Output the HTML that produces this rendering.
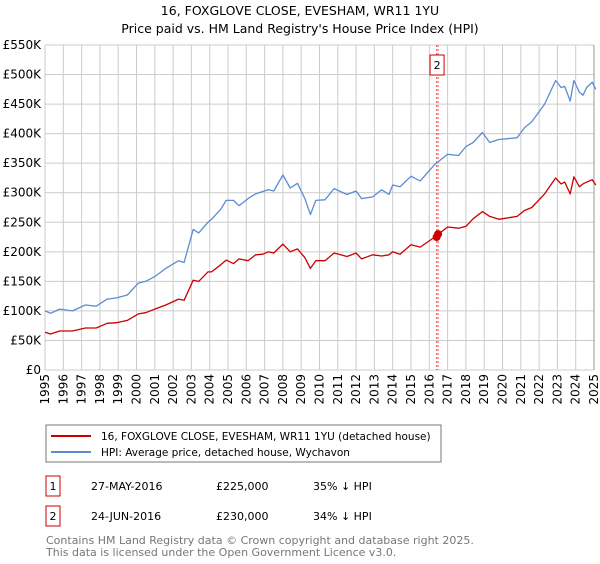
<!DOCTYPE html>
<html><head><meta charset="utf-8"><style>
body{margin:0;background:#fff;width:600px;height:560px;overflow:hidden;font-family:"DejaVu Sans","Liberation Sans",sans-serif;}
svg text{font-family:"DejaVu Sans","Liberation Sans",sans-serif;}
</style></head><body>
<svg id="chart" width="600" height="560">
<text x="300" y="15" text-anchor="middle" font-size="12.5">16, FOXGLOVE CLOSE, EVESHAM, WR11 1YU</text>
<text x="300" y="33" text-anchor="middle" font-size="12.5">Price paid vs. HM Land Registry's House Price Index (HPI)</text>
<g id="grid"></g><g id="axes"></g><g id="series"></g>
<g>
<rect x="46" y="425" width="395" height="37" fill="#fff" stroke="#777"/>
<line x1="51" y1="436" x2="91" y2="436" stroke="#cc0000" stroke-width="2"/>
<text x="101" y="440" font-size="10.5">16, FOXGLOVE CLOSE, EVESHAM, WR11 1YU (detached house)</text>
<line x1="51" y1="452" x2="91" y2="452" stroke="#5b8dd0" stroke-width="2"/>
<text x="101" y="456" font-size="10.5">HPI: Average price, detached house, Wychavon</text>
</g>
<g font-size="11">
<rect x="46" y="476" width="14" height="20" fill="#fff" stroke="#cc0000"/>
<text x="53" y="490" text-anchor="middle">1</text>
<text x="91" y="490">27-MAY-2016</text>
<text x="216" y="490">£225,000</text>
<text x="313" y="490">35% ↓ HPI</text>
<rect x="46" y="506" width="14" height="20" fill="#fff" stroke="#cc0000"/>
<text x="53" y="520" text-anchor="middle">2</text>
<text x="91" y="520">24-JUN-2016</text>
<text x="216" y="520">£230,000</text>
<text x="313" y="520">34% ↓ HPI</text>
</g>
<text x="46" y="544" font-size="11" fill="#777">Contains HM Land Registry data © Crown copyright and database right 2025.</text>
<text x="46" y="556" font-size="11" fill="#777">This data is licensed under the Open Government Licence v3.0.</text>
</svg>
<script>
const yTicks=[0,50,100,150,200,250,300,350,400,450,500,550];
const yearTicks=[1995,1996,1997,1998,1999,2000,2001,2002,2003,2004,2005,2006,2007,2008,2009,2010,2011,2012,2013,2014,2015,2016,2017,2018,2019,2020,2021,2022,2023,2024,2025];
const hpiDates=[1995,1995.3,1995.8,1996.5,1997.2,1997.8,1998.4,1998.9,1999.5,2000.1,2000.5,2001,2001.6,2002.3,2002.6,2003.1,2003.4,2003.9,2004.1,2004.6,2004.9,2005.3,2005.6,2006.1,2006.5,2006.9,2007.2,2007.5,2008,2008.4,2008.8,2009.2,2009.5,2009.8,2010.3,2010.8,2011.5,2012,2012.3,2012.9,2013.4,2013.8,2014,2014.4,2015,2015.5,2016.3,2017,2017.6,2018,2018.4,2018.9,2019.3,2019.8,2020.8,2021.2,2021.6,2022.3,2022.9,2023.2,2023.4,2023.7,2023.9,2024.2,2024.4,2024.6,2024.9,2025.1];
const hpiValues=[100,96,103,100,110,108,120,122,127,147,150,158,172,185,182,238,232,250,255,272,287,287,278,290,298,302,305,303,330,308,316,290,263,287,288,307,297,303,290,293,305,297,313,310,328,320,348,365,363,378,385,402,385,390,393,410,420,450,490,478,480,455,490,470,465,478,487,475];
const ppDates=[1995,1995.3,1995.8,1996.5,1997.2,1997.8,1998.4,1998.9,1999.5,2000.1,2000.5,2001,2001.6,2002.3,2002.6,2003.1,2003.4,2003.9,2004.1,2004.6,2004.9,2005.3,2005.6,2006.1,2006.5,2006.9,2007.2,2007.5,2008,2008.4,2008.8,2009.2,2009.5,2009.8,2010.3,2010.8,2011.5,2012,2012.3,2012.9,2013.4,2013.8,2014,2014.4,2015,2015.5,2016.3,2017,2017.6,2018,2018.4,2018.9,2019.3,2019.8,2020.8,2021.2,2021.6,2022.3,2022.9,2023.2,2023.4,2023.7,2023.9,2024.2,2024.4,2024.6,2024.9,2025.1];
const ppValues=[64,61,66,66,71,71,79,80,84,95,97,103,110,120,118,152,150,166,166,178,186,180,188,185,195,196,200,198,213,200,205,190,172,185,185,198,192,198,188,195,193,195,200,196,212,208,225,242,240,243,256,268,260,255,260,270,275,298,325,315,318,298,327,310,315,318,322,313];
const saleDates=[2016.4,2016.48];
const saleValues=[225,230];
const X0=45,X1=594,Y0=370,Y1=45;
function xs(y){return X0+(y-1995)/(2025-1995)*(X1-X0);}
function ys(v){return Y0-v/550*(Y0-Y1);}
const NS="http://www.w3.org/2000/svg";
const grid=document.getElementById('grid'),axes=document.getElementById('axes'),ser=document.getElementById('series');
function mk(tag,attrs,parent){const e=document.createElementNS(NS,tag);for(const k in attrs)e.setAttribute(k,attrs[k]);parent.appendChild(e);return e;}
yTicks.forEach(v=>{
 const l=mk('line',{x1:X0,x2:X1,y1:ys(v),y2:ys(v),stroke:'#cccccc','stroke-width':1},grid);
 
 
 const t=mk('text',{x:X0-4,y:ys(v)+4,'text-anchor':'end','font-size':12},axes);
 
 
 t.textContent=v===0?'£0':'£'+v+'K';
});
yearTicks.forEach(yr=>{
 const l=mk('line',{x1:xs(yr),x2:xs(yr),y1:Y1,y2:Y0,stroke:'#cccccc','stroke-width':1},grid);
 
 
 const t=mk('text',{x:0,y:0,'text-anchor':'end','font-size':12,transform:'translate('+(xs(yr)+4)+','+(Y0+4)+') rotate(-90)'},axes);
 
 
 t.textContent=yr;
});
saleDates.forEach((d,i)=>{
 const l=mk('line',{x1:xs(d),x2:xs(d),y1:Y1,y2:Y0,stroke:'#ee5555','stroke-width':1,'stroke-dasharray':'2,2'},ser);
 
 
});
function path(dates,vals,color,name){
 let d='';dates.forEach((t,i)=>{d+=(i?'L':'M')+xs(t).toFixed(1)+','+ys(vals[i]).toFixed(1);});
 const p=mk('path',{d:d,fill:'none',stroke:color,'stroke-width':1.3,'stroke-linejoin':'round'},ser);
 
 
}
path(hpiDates,hpiValues,'#5b8dd0','hpi-line');
path(ppDates,ppValues,'#cc0000','property-price-line');
saleDates.forEach((d,i)=>{
 const c=mk('circle',{cx:xs(d),cy:ys(saleValues[i]),r:4,fill:'#cc0000'},ser);
 
 
});
const bx=xs(saleDates[1]);
const box=mk('rect',{x:bx-8,y:55,width:14,height:20,fill:'#fff',stroke:'#cc0000'},ser);


const bt=mk('text',{x:bx-1,y:69,'text-anchor':'middle','font-size':11},ser);


bt.textContent='2';
const ax=mk('line',{x1:X1,x2:X1,y1:Y1,y2:Y0,stroke:'#999','stroke-width':1},axes);


</script>
</body></html>
